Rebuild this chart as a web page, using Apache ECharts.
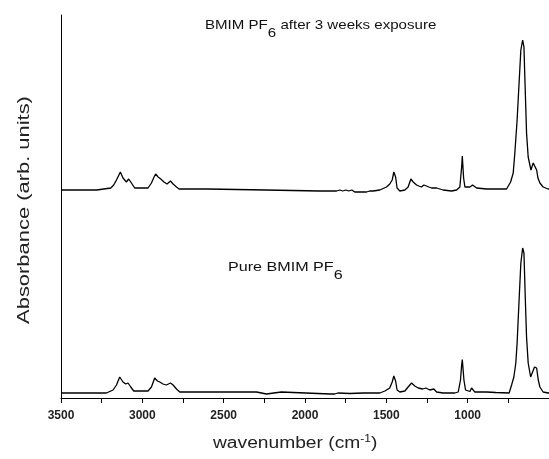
<!DOCTYPE html>
<html>
<head>
<meta charset="utf-8">
<script src="https://cdn.jsdelivr.net/npm/echarts@6/dist/echarts.min.js"></script>
<style>
html,body{margin:0;padding:0;background:#fff;}
#c{width:549px;height:459px;}
</style>
</head>
<body>
<div id="c"></div>
<script>
// Spectrum after 3 weeks exposure (wavenumber, absorbance in arb. units)
var exposedWn = [3500,3280,3276,3194,3190,3176,3159,3135,3119,3098,3084,3067,3047,2965,2944,2928,2918,2903,2887,2867,2848,2827,2811,2790,2774,2600,2596,2241,2237,1909,1806,1786,1768,1749,1731,1712,1694,1663,1622,1602,1581,1540,1499,1479,1464,1454,1443,1434,1417,1386,1366,1349,1335,1314,1300,1284,1269,1253,1239,1222,1191,1151,1099,1068,1048,1039,1036,1033,1028,1025,1017,986,970,945,884,761,736,720,710,696,683,673,662,654,648,638,628,611,597,587,576,568,556,536,505,500];
var exposedAbs = [2.08,2.08,2.10,2.10,2.10,2.13,2.18,2.26,2.20,2.16,2.19,2.15,2.10,2.10,2.15,2.21,2.24,2.21,2.19,2.16,2.14,2.17,2.14,2.11,2.09,2.09,2.08,2.08,2.07,2.07,2.07,2.08,2.07,2.08,2.07,2.08,2.06,2.06,2.06,2.07,2.07,2.08,2.11,2.14,2.18,2.26,2.21,2.10,2.07,2.08,2.11,2.19,2.16,2.13,2.12,2.11,2.13,2.12,2.11,2.10,2.10,2.08,2.07,2.08,2.11,2.12,2.33,2.42,2.41,2.20,2.11,2.11,2.13,2.10,2.09,2.09,2.16,2.25,2.45,2.78,3.18,3.48,3.58,3.51,3.18,2.65,2.41,2.28,2.35,2.36,2.28,2.20,2.15,2.11,2.09,2.09];

// Pure BMIM PF6 spectrum
var pureWn = [3500,3221,3211,3180,3159,3139,3119,3102,3088,3071,3053,2965,2944,2924,2907,2893,2873,2852,2827,2811,2790,2770,2298,2295,2237,2233,2145,2138,1847,1835,1817,1798,1796,1724,1643,1540,1509,1479,1464,1454,1443,1434,1417,1386,1366,1345,1325,1304,1277,1257,1233,1208,1191,1151,1079,1058,1044,1037,1033,1028,1023,1013,986,976,956,884,827,745,730,716,704,696,683,673,662,654,646,638,628,613,601,589,576,566,556,536,505,500];
var pureAbs = [0.05,0.05,0.06,0.08,0.13,0.21,0.16,0.14,0.15,0.11,0.07,0.07,0.11,0.20,0.17,0.16,0.14,0.13,0.15,0.13,0.09,0.06,0.06,0.04,0.04,0.06,0.06,0.04,0.04,0.05,0.04,0.05,0.04,0.045,0.05,0.05,0.07,0.10,0.16,0.22,0.17,0.08,0.06,0.07,0.11,0.15,0.12,0.10,0.09,0.10,0.08,0.09,0.06,0.05,0.05,0.06,0.18,0.33,0.385,0.38,0.18,0.08,0.065,0.10,0.06,0.06,0.055,0.05,0.13,0.21,0.35,0.55,1.01,1.35,1.50,1.45,1.01,0.61,0.35,0.21,0.26,0.31,0.30,0.18,0.11,0.06,0.05,0.05];

var xTicksMin = 500, xTicksMax = 3500, xTickStep = 250, xLabelStep = 500;
var yMin = 0, yMax = 3.83;

function zip(a, b) { return a.map(function (v, i) { return [v, b[i]]; }); }

var chart = echarts.init(document.getElementById('c'), null, {renderer: 'canvas'});
var FONT = 'Liberation Sans, Arial, sans-serif';
var subRich = {
  a: {fontSize: 13, fontFamily: FONT, lineHeight: 14, verticalAlign: 'top', fill: '#111'},
  b: {fontSize: 13, fontFamily: FONT, lineHeight: 21, verticalAlign: 'bottom', fill: '#111'}
};
chart.setOption({
  animation: false,
  backgroundColor: '#fff',
  grid: {left: 61, right: 0, top: 15, bottom: 61},
  xAxis: {
    type: 'value', inverse: true, min: xTicksMin, max: xTicksMax, interval: xTickStep,
    axisLine: {show: true, onZero: false, lineStyle: {color: '#000', width: 1}},
    axisTick: {show: true, length: 5, lineStyle: {color: '#000', width: 1}},
    axisLabel: {
      color: '#222', fontSize: 12, fontWeight: 'bold', fontFamily: FONT, margin: 12,
      showMinLabel: false,
      formatter: function (v) { return (v % xLabelStep === 0 && v !== xTicksMin) ? String(v) : ''; }
    },
    splitLine: {show: false}
  },
  yAxis: {
    type: 'value', min: yMin, max: yMax,
    axisLine: {show: true, lineStyle: {color: '#000', width: 1}},
    axisTick: {show: false}, axisLabel: {show: false}, splitLine: {show: false}
  },
  series: [
    {type: 'line', name: 'BMIM PF6 after 3 weeks exposure', data: zip(exposedWn, exposedAbs), showSymbol: false, lineStyle: {color: '#000', width: 1.3}},
    {type: 'line', name: 'Pure BMIM PF6', data: zip(pureWn, pureAbs), showSymbol: false, lineStyle: {color: '#000', width: 1.3}}
  ],
  graphic: [
    {type: 'text', x: 205, y: 19, scaleX: 1.16, silent: true, style: {
      text: '{a|BMIM PF}{b|6}{a| after 3 weeks exposure}',
      align: 'left', verticalAlign: 'top', fill: '#111', rich: subRich
    }},
    {type: 'text', x: 228, y: 261, scaleX: 1.24, silent: true, style: {
      text: '{a|Pure BMIM PF}{b|6}',
      align: 'left', verticalAlign: 'top', fill: '#111', rich: subRich
    }},
    {type: 'text', x: 213, y: 434, scaleX: 1.2, silent: true, style: {
      text: '{m|wavenumber (cm}{s|-1}{m|)}',
      align: 'left', verticalAlign: 'top', fill: '#222',
      rich: {m: {fontSize: 16, fontFamily: FONT, lineHeight: 18, verticalAlign: 'bottom', fill: '#222'},
             s: {fontSize: 10, fontFamily: FONT, lineHeight: 10, verticalAlign: 'top', fill: '#222'}}
    }},
    {type: 'text', x: 25, y: 210, rotation: Math.PI / 2, scaleX: 1.37, silent: true, style: {
      text: 'Absorbance (arb. units)', font: '16px ' + FONT,
      align: 'center', verticalAlign: 'middle', fill: '#222'
    }}
  ]
});
</script>
</body>
</html>
